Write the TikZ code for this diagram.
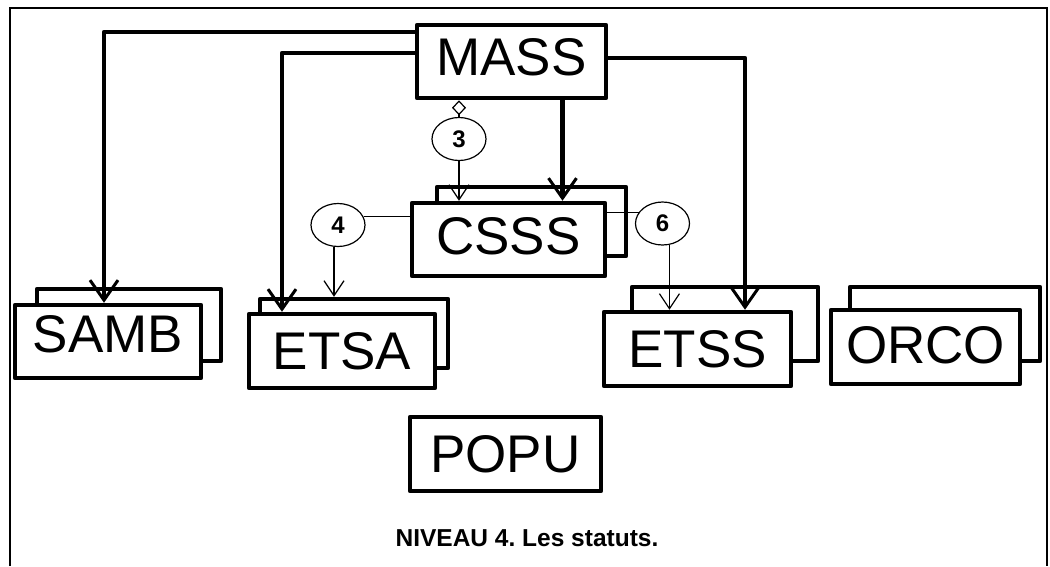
\documentclass[tikz,border=0pt]{standalone}
\usepackage{fontspec}
\setmainfont{Liberation Sans}
\frenchspacing
\usetikzlibrary{arrows.meta,shapes.geometric}
\tikzset{
  box/.style={draw, line width=4.5pt, fill=white, inner sep=0pt, line join=round,
    font=\fontsize{53}{60}\selectfont},
  bk/.style={draw, line width=4.5pt, fill=white, inner sep=0pt, line join=round},
  circ/.style={draw, ellipse, line width=1.2pt, fill=white, inner sep=0pt,
    minimum width=54pt, minimum height=43pt, font=\bfseries\fontsize{24}{26}\selectfont},
  bigarrow/.style={line width=4.5pt, line join=round,
    -{Straight Barb[length=20pt,width=28pt,line width=3pt]}},
  thinarrow/.style={line width=1.2pt,
    -{Straight Barb[length=15pt,width=20pt,line width=1.2pt]}},
  thinline/.style={line width=1.2pt},
  frame/.style={line width=1.3pt}
}
\begin{document}
\begin{tikzpicture}[x=1pt,y=-1pt]
\useasboundingbox (0,0) rectangle (1050,566);
\fill[white] (0,0) rectangle (1050,566);
% frame
\coordinate (fbl) at (10,566);
\coordinate (ftl) at (10,8);
\coordinate (ftr) at (1047,8);
\coordinate (fbr) at (1047,566);
\draw[frame] (fbl) -- (ftl) -- (ftr) -- (fbr);

% back boxes
\node[bk, minimum width=189pt, minimum height=69pt] (csssB) at (531.5,221.5) {};
\node[bk, minimum width=184pt, minimum height=72pt] (sambB) at (129,325) {};
\node[bk, minimum width=188pt, minimum height=69pt] (etsaB) at (354,333.5) {};
\node[bk, minimum width=186pt, minimum height=74pt] (etssB) at (725,324) {};
\node[bk, minimum width=190pt, minimum height=74pt] (orcoB) at (945,324) {};

% front boxes
\node[box, minimum width=189pt, minimum height=73pt, text depth=10pt] (mass) at (511.5,61.5) {MASS};
\node[box, minimum width=193pt, minimum height=73pt, text depth=8pt] (csss) at (508.5,239.5) {CSSS};
\node[box, minimum width=186pt, minimum height=73pt, text depth=16pt] (samb) at (108,341.5) {SAMB};
\node[box, minimum width=186pt, minimum height=74pt] (etsa) at (342,351) {ETSA};
\node[box, minimum width=187pt, minimum height=74pt] (etss) at (697.5,349) {ETSS};
\node[box, minimum width=189pt, minimum height=74pt, text depth=4pt] (orco) at (925.5,347) {ORCO};
\node[box, minimum width=191pt, minimum height=74pt] (popu) at (505.5,454) {POPU};

% circles
\node[circ] (c3) at (459,139) {3};
\node[circ] (c4) at (338,225) {4};
\node[circ] (c6) at (662.5,223.5) {6};

% thick arrows from MASS
\draw[bigarrow] ([yshift=29.5pt]mass.west) -| ([xshift=-4pt]samb.north);
\draw[bigarrow] ([yshift=8.5pt]mass.west) -| ([xshift=-60pt]etsa.north);
\draw[bigarrow] ([yshift=3.5pt]mass.east) -| ([xshift=47.5pt]etss.north);
\draw[bigarrow] ([xshift=51pt]mass.south) -- ([xshift=51pt]mass.south |- csss.north);

% thin links
\draw[thinline, {Diamond[open,length=15pt,width=14pt,line width=1.2pt]}-] (mass.south -| c3.north) -- (c3.north);
\draw[thinarrow] (c3.south) -- (c3.south |- csss.north);
\draw[thinline] (c4.18) -- (c4.18 -| csss.west);
\draw[thinarrow] ([xshift=-4pt]c4.south) -- ([xshift=-4pt]c4.south |- etsaB.north);
\draw[thinline] (c6.155) -- (c6.155 -| csss.east);
\draw[thinarrow] (c6.-72) -- (c6.-72 |- etss.north);

% caption
\node[font=\bfseries\fontsize{24.5}{27}\selectfont, inner sep=0pt] (cap) at (527,538) {NIVEAU 4. Les statuts.};
\end{tikzpicture}
\end{document}
